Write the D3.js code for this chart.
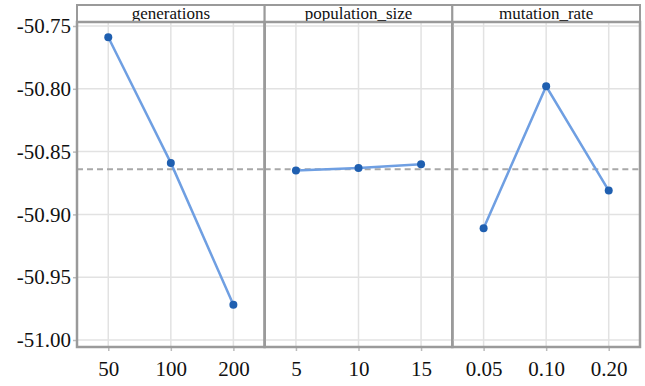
<!DOCTYPE html>
<html><head><meta charset="utf-8">
<script src="https://cdn.jsdelivr.net/npm/d3@7"></script>
<style>body{margin:0;background:#fff}svg{display:block}text{font-family:"Liberation Serif","Times New Roman",Times,serif}</style>
</head><body>
<script>
const factors = ["generations", "population_size", "mutation_rate"];
const genLevels = ["50", "100", "200"];
const genValues = [-50.759, -50.859, -50.972];
const popLevels = ["5", "10", "15"];
const popValues = [-50.865, -50.863, -50.860];
const mutLevels = ["0.05", "0.10", "0.20"];
const mutValues = [-50.911, -50.798, -50.881];
const meanValue = -50.864;
const yTicks = [-50.75, -50.80, -50.85, -50.90, -50.95, -51.00];

const panels = [
  {name: factors[0], levels: genLevels, values: genValues},
  {name: factors[1], levels: popLevels, values: popValues},
  {name: factors[2], levels: mutLevels, values: mutValues}
];

const W = 645, H = 386;
const left = 77, right = 640, stripTop = 5, stripH = 17, plotTop = 22, plotBottom = 347;
const serif = '"Liberation Serif","Times New Roman",Times,serif';
const svg = d3.select("body").append("svg").attr("width", W).attr("height", H);

const y = d3.scaleLinear().domain([-51.0, -50.75]).range([340, 26]);
const panelW = (right - left) / 3;
const fmt = d => d3.format(".2f")(d).replace("\u2212", "-");

// y axis
const yAxis = svg.append("g").attr("transform", `translate(${left},0)`)
  .call(d3.axisLeft(y).tickValues(yTicks).tickFormat(fmt).tickSize(4).tickPadding(2));
yAxis.attr("font-family", serif);
yAxis.select(".domain").remove();
yAxis.selectAll("line").attr("stroke", "#bbb").attr("stroke-width", 1.5);
yAxis.selectAll("text").attr("font-family", serif).attr("font-size", 21).attr("fill", "#111");

panels.forEach((p, i) => {
  const x0 = left + i * panelW, x1 = x0 + panelW;
  const x = d3.scalePoint().domain(p.levels).range([x0, x1]).padding(0.5);
  const g = svg.append("g");
  g.selectAll(".hg").data(yTicks).join("line")
    .attr("x1", x0).attr("x2", x1).attr("y1", d => y(d)).attr("y2", d => y(d))
    .attr("stroke", "#e2e2e2").attr("stroke-width", 1.5);
  g.selectAll(".vg").data(p.levels).join("line")
    .attr("x1", d => x(d)).attr("x2", d => x(d)).attr("y1", plotTop).attr("y2", plotBottom)
    .attr("stroke", "#e2e2e2").attr("stroke-width", 1.5);
  g.append("line").attr("x1", x0).attr("x2", x1).attr("y1", y(meanValue)).attr("y2", y(meanValue))
    .attr("stroke", "#a8a8a8").attr("stroke-width", 2).attr("stroke-dasharray", "6,4");
  const pts = p.levels.map((l, k) => [x(l), y(p.values[k])]);
  g.append("path").attr("d", d3.line()(pts)).attr("fill", "none")
    .attr("stroke", "#6f9fe2").attr("stroke-width", 2.5);
  g.selectAll("circle").data(pts).join("circle")
    .attr("cx", d => d[0]).attr("cy", d => d[1]).attr("r", 4).attr("fill", "#1f5fb0");
  const xa = svg.append("g").attr("transform", `translate(0,${plotBottom})`)
    .call(d3.axisBottom(x).tickSize(4).tickPadding(10));
  xa.attr("font-family", serif);
  xa.select(".domain").remove();
  xa.selectAll("line").attr("stroke", "#bbb").attr("stroke-width", 1.5);
  xa.selectAll("text").attr("font-family", serif).attr("font-size", 21).attr("fill", "#111");
  svg.append("rect").attr("x", x0).attr("y", stripTop).attr("width", panelW).attr("height", stripH)
    .attr("fill", "#fff").attr("stroke", "#9a9a9a").attr("stroke-width", 2);
  svg.append("text").attr("x", (x0 + x1) / 2).attr("y", stripTop + 14).attr("text-anchor", "middle")
    .attr("font-family", serif).attr("font-size", 17).attr("fill", "#111").text(p.name);
  svg.append("rect").attr("x", x0).attr("y", plotTop).attr("width", panelW).attr("height", plotBottom - plotTop)
    .attr("fill", "none").attr("stroke", "#9a9a9a").attr("stroke-width", 2.5);
});
</script>
</body></html>
